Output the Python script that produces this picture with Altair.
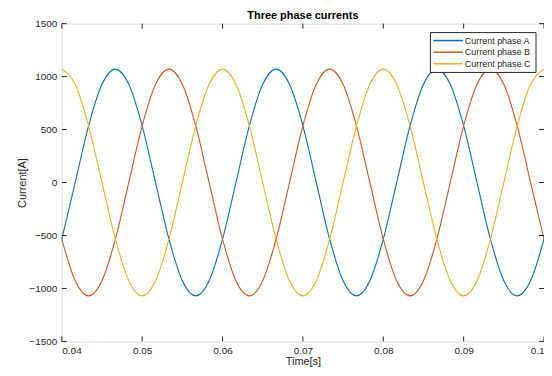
import altair as alt
import pandas as pd

time_s = [0.04, 0.041667, 0.043333, 0.045, 0.046667, 0.048333, 0.05, 0.051667, 0.053333,
          0.055, 0.056667, 0.058333, 0.06, 0.061667, 0.063333, 0.065, 0.066667, 0.068333,
          0.07, 0.071667, 0.073333, 0.075, 0.076667, 0.078333, 0.08, 0.081667, 0.083333,
          0.085, 0.086667, 0.088333, 0.09, 0.091667, 0.093333, 0.095, 0.096667, 0.098333, 0.1]

phase_a = [-535, 0, 535, 927, 1070, 927, 535, 0, -535, -927, -1070, -927,
           -535, 0, 535, 927, 1070, 927, 535, 0, -535, -927, -1070, -927,
           -535, 0, 535, 927, 1070, 927, 535, 0, -535, -927, -1070, -927, -535]
phase_b = [-535, -927, -1070, -927, -535, 0, 535, 927, 1070, 927, 535, 0,
           -535, -927, -1070, -927, -535, 0, 535, 927, 1070, 927, 535, 0,
           -535, -927, -1070, -927, -535, 0, 535, 927, 1070, 927, 535, 0, -535]
phase_c = [1070, 927, 535, 0, -535, -927, -1070, -927, -535, 0, 535, 927,
           1070, 927, 535, 0, -535, -927, -1070, -927, -535, 0, 535, 927,
           1070, 927, 535, 0, -535, -927, -1070, -927, -535, 0, 535, 927, 1070]

series_names = ["Current phase A", "Current phase B", "Current phase C"]
series_colors = ["#0072BD", "#D95319", "#EDB120"]

x_ticks = [0.04, 0.05, 0.06, 0.07, 0.08, 0.09, 0.1]
y_ticks = [-1500, -1000, -500, 0, 500, 1000, 1500]

rows = []
for name, vals in zip(series_names, [phase_a, phase_b, phase_c]):
    for t, v in zip(time_s, vals):
        rows.append({"t": t, "i": v, "series": name})
df = pd.DataFrame(rows)

W, H = 484, 319
FONT = "Liberation Sans"
TXT = "#262626"

xscale = alt.Scale(domain=[0.04, 0.1], nice=False, zero=False)
yscale = alt.Scale(domain=[-1500, 1500], nice=False)
cscale = alt.Scale(domain=series_names, range=series_colors)

lines = alt.Chart(df).mark_line(strokeWidth=1.1, interpolate="monotone").encode(
    x=alt.X("t:Q", scale=xscale, title="Time[s]",
            axis=alt.Axis(values=x_ticks, format="~g", ticks=False, domain=False, grid=False,
                          labelFontSize=10, labelColor=TXT, labelFont=FONT, labelPadding=4,
                          titleFont=FONT, titleFontSize=11, titleFontWeight="normal",
                          titleColor=TXT, titlePadding=0)),
    y=alt.Y("i:Q", scale=yscale, title="Current[A]",
            axis=alt.Axis(values=y_ticks, format="d", ticks=False, domain=False, grid=False,
                          labelFontSize=10, labelColor=TXT, labelFont=FONT, labelPadding=5,
                          titleFont=FONT, titleFontSize=11, titleFontWeight="normal",
                          titleColor=TXT, titlePadding=1)),
    color=alt.Color("series:N", scale=cscale, legend=None),
)

xt = pd.DataFrame({"t": x_ticks})
yt = pd.DataFrame({"i": y_ticks})
tick_style = dict(color="#262626", strokeWidth=1)
top_ticks = alt.Chart(xt).mark_rule(**tick_style).encode(
    x=alt.X("t:Q", scale=xscale), y=alt.value(0), y2=alt.value(5))
bot_ticks = alt.Chart(xt).mark_rule(**tick_style).encode(
    x=alt.X("t:Q", scale=xscale), y=alt.value(H), y2=alt.value(H - 5))
left_ticks = alt.Chart(yt).mark_rule(**tick_style).encode(
    y=alt.Y("i:Q", scale=yscale), x=alt.value(0), x2=alt.value(5))
right_ticks = alt.Chart(yt).mark_rule(**tick_style).encode(
    y=alt.Y("i:Q", scale=yscale), x=alt.value(W), x2=alt.value(W - 5))

# legend box (manual, MATLAB style)
LX0, LX1, LY0, LY1 = 370, 476, 9, 49
row_y = [17, 28.7, 40.3]
legend_box = alt.Chart(pd.DataFrame({"a": [0]})).mark_rect(
    fill="white", stroke="#262626", strokeWidth=1).encode(
    x=alt.value(LX0), x2=alt.value(LX1), y=alt.value(LY0), y2=alt.value(LY1))
legend_layers = [legend_box]
for name, ry in zip(series_names, row_y):
    d = pd.DataFrame({"series": [name]})
    legend_layers.append(alt.Chart(d).mark_rule(strokeWidth=1.5).encode(
        x=alt.value(373), x2=alt.value(402.5), y=alt.value(ry),
        color=alt.Color("series:N", scale=cscale, legend=None)))
    legend_layers.append(alt.Chart(d).mark_text(
        align="left", baseline="middle", font=FONT, fontSize=9, color=TXT).encode(
        x=alt.value(404.5), y=alt.value(ry), text="series:N"))

chart = alt.layer(lines, top_ticks, bot_ticks, left_ticks, right_ticks, *legend_layers).properties(
    width=W, height=H,
    title=alt.TitleParams("Three phase currents", font=FONT, fontSize=11, fontWeight="bold",
                          color="#000000", anchor="middle", offset=-2),
    autosize=alt.AutoSizeParams(type="none"),
    padding={"left": 54, "top": 15, "right": 0, "bottom": 26},
).configure_view(stroke="#262626", strokeWidth=1.5).configure(background="white")

chart.save("out.html", embed_options={"renderer": "svg", "actions": False})
